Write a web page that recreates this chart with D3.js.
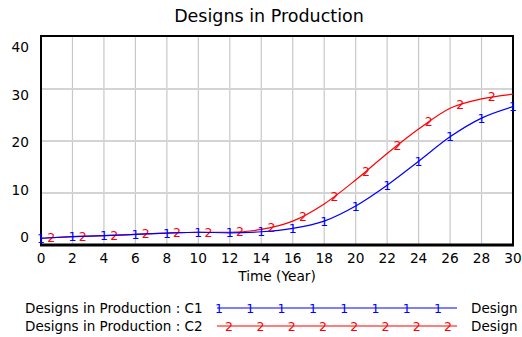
<!DOCTYPE html>
<html>
<head>
<meta charset="utf-8">
<script src="https://cdn.jsdelivr.net/npm/d3@7"></script>
<style>
  body { margin: 0; background: #fff; }
  svg { display: block; font-family: "DejaVu Sans", sans-serif; }
</style>
</head>
<body>
<div id="chart"></div>
<script>
// values
var years = [0, 2, 4, 6, 8, 10, 12, 14, 16, 18, 20, 22, 24, 26, 28, 30];
var c1 = [1.3, 1.6, 1.8, 2.05, 2.3, 2.45, 2.35, 2.55, 3.2, 4.6, 7.5, 11.5, 16.1, 20.8, 24.4, 26.6];
var c2 = [1.3, 1.6, 1.8, 2.05, 2.3, 2.45, 2.45, 3.0, 4.6, 7.9, 12.5, 17.6, 22.3, 26.3, 28.1, 29.0];
var xTicks = d3.range(0, 31, 2);
var yTicks = [0, 10, 20, 30, 40];
var seriesNames = ["Designs in Production : C1", "Designs in Production : C2"];
var seriesColors = ["#0000ff", "#ff0000"];
var markerChars = ["1", "2"];
var markerOffset = [0, 0.65];

var width = 522, height = 337;
var svg = d3.select("#chart").append("svg")
    .attr("width", width)
    .attr("height", height);

var x = d3.scaleLinear().domain([0, 30]).range([41, 513]);
var y = d3.scaleLinear().domain([0, 40]).range([245, 37]);
// vensim puts the y labels slightly off the grid lines
var yLab = d3.scaleLinear().domain([0, 40]).range([237, 47]);

svg.append("text")
    .attr("x", 269).attr("y", 22)
    .attr("text-anchor", "middle")
    .attr("font-size", 17.5)
    .text("Designs in Production");

// grid
svg.append("g").selectAll("line").data(xTicks.slice(1, -1)).enter().append("line")
    .attr("x1", d => x(d)).attr("x2", d => x(d))
    .attr("y1", y(40)).attr("y2", y(0))
    .attr("stroke", "#c8c8c8").attr("stroke-width", 1.2);
svg.append("g").selectAll("line").data(yTicks.slice(1, -1)).enter().append("line")
    .attr("x1", x(0)).attr("x2", x(30))
    .attr("y1", d => y(d)).attr("y2", d => y(d))
    .attr("stroke", "#d4d4d4").attr("stroke-width", 2);

// frame
svg.append("rect")
    .attr("x", x(0)).attr("y", y(40) - 1)
    .attr("width", x(30) - x(0)).attr("height", y(0) - y(40) + 1)
    .attr("fill", "none").attr("stroke", "#000").attr("stroke-width", 2);
svg.append("line")
    .attr("x1", x(0) - 1).attr("x2", x(30) + 1)
    .attr("y1", y(0)).attr("y2", y(0))
    .attr("stroke", "#000").attr("stroke-width", 3);

// tick labels
svg.append("g").selectAll("text").data(xTicks).enter().append("text")
    .attr("x", d => x(d)).attr("y", 263)
    .attr("text-anchor", "middle").attr("font-size", 13.7)
    .text(d => d);
svg.append("g").selectAll("text").data(yTicks).enter().append("text")
    .attr("x", 29).attr("y", d => yLab(d) + 5)
    .attr("text-anchor", "end").attr("font-size", 13.7)
    .text(d => d);
svg.append("text")
    .attr("x", 277).attr("y", 281)
    .attr("text-anchor", "middle").attr("font-size", 13.7)
    .text("Time (Year)");

var line = d3.line()
    .x(d => x(d[0])).y(d => y(d[1]))
    .curve(d3.curveMonotoneX);

var series = [c1, c2];
// draw C2 first so C1 sits on top where they coincide
[1, 0].forEach(function(i) {
    var pts = years.map((t, k) => [t, series[i][k]]);
    var path = svg.append("path")
        .datum(pts)
        .attr("d", line)
        .attr("fill", "none")
        .attr("stroke", seriesColors[i])
        .attr("stroke-width", 1.2);

    // markers along the curve every 2 years
    var node = path.node(), total = node.getTotalLength();
    function pointAtX(px) {
        var lo = 0, hi = total;
        for (var it = 0; it < 30; it++) {
            var mid = (lo + hi) / 2;
            if (node.getPointAtLength(mid).x < px) lo = mid; else hi = mid;
        }
        return node.getPointAtLength(lo);
    }
    var mt = d3.range(markerOffset[i], 30.01, 2);
    svg.append("g").selectAll("text").data(mt).enter().append("text")
        .attr("x", d => x(d))
        .attr("y", d => pointAtX(x(d)).y + 4.5)
        .attr("text-anchor", "middle")
        .attr("font-size", 12.5)
        .attr("fill", seriesColors[i])
        .text(markerChars[i]);
});

// legend
var legY = [308, 326];
var legLine = d3.scaleLinear().domain([0, 1]).range([217, 457]);
var legMark = d3.scaleLinear().domain([0, 7]).range([219, 438]);
seriesNames.forEach(function(name, i) {
    svg.append("text")
        .attr("x", 25).attr("y", legY[i] + 5)
        .attr("font-size", 13.5)
        .text(name);
    svg.append("line")
        .attr("x1", legLine(0)).attr("x2", legLine(1))
        .attr("y1", legY[i]).attr("y2", legY[i])
        .attr("stroke", seriesColors[i]).attr("stroke-width", 1.2);
    svg.append("g").selectAll("text").data(d3.range(8)).enter().append("text")
        .attr("x", d => legMark(d) + markerOffset[i] * 15.5)
        .attr("y", legY[i] + 4.5)
        .attr("text-anchor", "middle")
        .attr("font-size", 12.5)
        .attr("fill", seriesColors[i])
        .text(markerChars[i]);
    svg.append("text")
        .attr("x", 471).attr("y", legY[i] + 5)
        .attr("font-size", 13.5)
        .text("Design");
});
</script>
</body>
</html>
